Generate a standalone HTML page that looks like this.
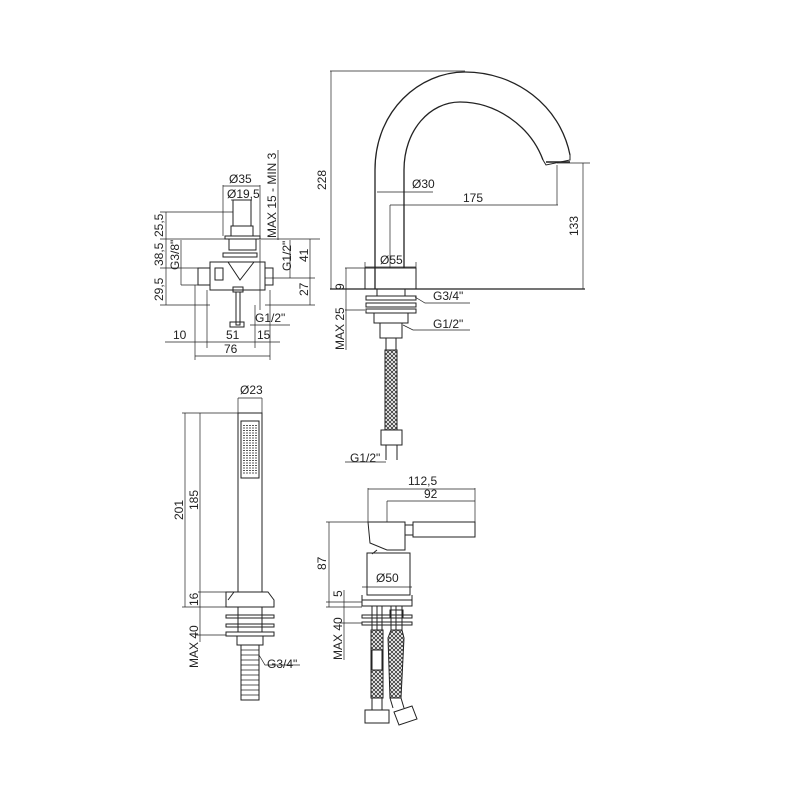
<!DOCTYPE html>
<html><head><style>html,body{margin:0;padding:0;background:#fff}svg{display:block}text{font-family:"Liberation Sans",sans-serif;font-size:12px;fill:#222;stroke:none}</style></head><body>
<svg width="800" height="800" viewBox="0 0 800 800" xmlns="http://www.w3.org/2000/svg" fill="none" stroke="#222" stroke-width="1">
<defs>
<pattern id="hx" width="4" height="4" patternUnits="userSpaceOnUse"><path d="M0,0 L4,4 M4,0 L0,4" stroke="#333" stroke-width="0.8"/></pattern>
</defs>
<!-- SPOUT -->
<path d="M375,289 V170 C375,110 420,72 465,72 C515,72 560,105 570,155" stroke-width="1.3"/>
<path d="M404,268 V170 C404,130 430,102 460,102 C495,102 530,125 543,160" stroke-width="1.3"/>
<path d="M543,160 L546,165 L570,160 L570,155" />
<path d="M546,162 h24" stroke-width="1.5"/>
<line x1="330" y1="71" x2="465" y2="71" stroke-width="0.7"/>
<line x1="331" y1="71" x2="331" y2="289" stroke-width="0.7"/>
<text x="326" y="190" transform="rotate(-90 326 190)">228</text>
<rect x="365" y="268" width="51" height="21"/>
<line x1="330" y1="289" x2="585" y2="289" stroke-width="1.2"/>
<line x1="377" y1="192" x2="403" y2="192" stroke-width="0.7"/>
<line x1="403" y1="192" x2="433" y2="192" stroke-width="0.7"/>
<text x="412" y="188">Ø30</text>
<line x1="390" y1="205" x2="558" y2="205" stroke-width="0.7"/>
<line x1="390" y1="205" x2="390" y2="268" stroke-width="0.7"/>
<line x1="557" y1="165" x2="557" y2="205" stroke-width="0.7"/>
<text x="463" y="202">175</text>
<line x1="557" y1="163" x2="590" y2="163" stroke-width="0.7"/>
<line x1="583" y1="163" x2="583" y2="289" stroke-width="0.7"/>
<text x="578" y="236" transform="rotate(-90 578 236)">133</text>
<line x1="365" y1="268" x2="365" y2="262" stroke-width="0.7"/>
<line x1="416" y1="268" x2="416" y2="262" stroke-width="0.7"/>
<line x1="365" y1="267" x2="416" y2="267" stroke-width="0.7"/>
<text x="380" y="264">Ø55</text>
<line x1="345" y1="268" x2="365" y2="268" stroke-width="0.7"/>
<line x1="346" y1="268" x2="346" y2="350" stroke-width="0.7"/>
<text x="344" y="290" transform="rotate(-90 344 290)">9</text>
<text x="344" y="350" transform="rotate(-90 344 350)">MAX 25</text>
<line x1="345" y1="310" x2="365" y2="310" stroke-width="0.7"/>
<rect x="366" y="296" width="50" height="4"/><rect x="366" y="303" width="50" height="4"/><rect x="366" y="309" width="50" height="4"/>
<rect x="377" y="289" width="28" height="7"/>
<rect x="374" y="313" width="34" height="10"/>
<rect x="380" y="323" width="22" height="15"/>
<path d="M386,338 V350 M396,338 V350"/>
<rect x="385" y="350" width="12" height="80" fill="url(#hx)"/>
<rect x="381" y="430" width="21" height="15"/>
<path d="M386,445 V460 M397,445 V460"/>
<path d="M415,297 L425,303 H470" stroke-width="0.7"/><text x="433" y="300">G3/4"</text>
<path d="M403,325 L413,330 H470" stroke-width="0.7"/><text x="433" y="328">G1/2"</text>
<path d="M345,462 H386" stroke-width="0.7"/><text x="350" y="462">G1/2"</text>
<!-- VALVE -->
<line x1="223" y1="185" x2="223" y2="236" stroke-width="0.7"/><line x1="260" y1="185" x2="260" y2="236" stroke-width="0.7"/>
<line x1="223" y1="186" x2="260" y2="186" stroke-width="0.7"/><text x="229" y="183">Ø35</text>
<line x1="231" y1="200" x2="252" y2="200" stroke-width="0.7"/><text x="227" y="198">Ø19,5</text>
<rect x="233" y="200" width="18" height="26"/><rect x="231" y="226" width="22" height="10"/>
<rect x="225" y="236" width="35" height="3"/><rect x="229" y="239" width="27" height="11"/>
<rect x="223" y="253" width="34" height="4"/>
<rect x="210" y="262" width="55" height="28"/>
<path d="M228,262 L240,280 L254,262"/>
<rect x="198" y="268" width="12" height="17"/><rect x="265" y="268" width="8" height="17"/>
<rect x="215" y="268" width="8" height="12"/>
<rect x="233" y="287" width="10" height="5"/>
<rect x="236" y="292" width="4" height="33"/><rect x="230" y="322" width="14" height="5"/>
<line x1="260" y1="240" x2="260" y2="310" stroke-width="0.7"/>
<line x1="160" y1="212" x2="233" y2="212" stroke-width="0.7"/>
<line x1="160" y1="239" x2="320" y2="239" stroke-width="0.7"/>
<line x1="160" y1="268" x2="198" y2="268" stroke-width="0.7"/>
<line x1="160" y1="305" x2="210" y2="305" stroke-width="0.7"/>
<line x1="166" y1="212" x2="166" y2="305" stroke-width="0.7"/>
<text x="163" y="237" transform="rotate(-90 163 237)">25,5</text>
<text x="163" y="266" transform="rotate(-90 163 266)">38,5</text>
<text x="163" y="301" transform="rotate(-90 163 301)">29,5</text>
<line x1="181" y1="240" x2="181" y2="285" stroke-width="0.7"/><line x1="181" y1="285" x2="198" y2="285" stroke-width="0.7"/>
<text x="179" y="270" transform="rotate(-90 179 270)">G3/8"</text>
<text x="276" y="238" transform="rotate(-90 276 238)">MAX 15 - MIN 3</text>
<line x1="278" y1="150" x2="278" y2="240" stroke-width="0.7"/>
<line x1="290" y1="240" x2="290" y2="278" stroke-width="0.7"/>
<text x="291" y="271" transform="rotate(-90 291 271)">G1/2"</text>
<line x1="310" y1="239" x2="310" y2="305" stroke-width="0.7"/>
<line x1="265" y1="278" x2="315" y2="278" stroke-width="0.7"/><line x1="265" y1="305" x2="315" y2="305" stroke-width="0.7"/>
<text x="308" y="262" transform="rotate(-90 308 262)">41</text>
<text x="308" y="296" transform="rotate(-90 308 296)">27</text>
<line x1="195" y1="285" x2="195" y2="360" stroke-width="0.7"/><line x1="207" y1="290" x2="207" y2="348" stroke-width="0.7"/>
<line x1="255" y1="305" x2="255" y2="348" stroke-width="0.7"/><line x1="270" y1="290" x2="270" y2="360" stroke-width="0.7"/>
<line x1="165" y1="342" x2="280" y2="342" stroke-width="0.7"/>
<text x="173" y="339">10</text><text x="226" y="339">51</text><text x="257" y="339">15</text>
<text x="255" y="322">G1/2"</text><line x1="250" y1="325" x2="290" y2="325" stroke-width="0.7"/>
<line x1="195" y1="356" x2="270" y2="356" stroke-width="0.7"/><text x="224" y="353">76</text>
<!-- HAND SHOWER -->
<rect x="238" y="413" width="24" height="179"/>
<rect x="241" y="421" width="18" height="57"/>
<path d="M244,425 V475 M247,425 V475 M250,425 V475 M253,425 V475 M256,425 V475" stroke-width="1.5" stroke-dasharray="1 1.5"/>
<line x1="238" y1="398" x2="262" y2="398" stroke-width="0.7"/><line x1="238" y1="398" x2="238" y2="413" stroke-width="0.7"/><line x1="262" y1="398" x2="262" y2="413" stroke-width="0.7"/>
<text x="240" y="394">Ø23</text>
<path d="M226,607 V592 H268 L274,600 V607 Z M234,592 L228,600"/>
<line x1="182" y1="413" x2="238" y2="413" stroke-width="0.7"/>
<line x1="182" y1="607" x2="230" y2="607" stroke-width="0.7"/>
<line x1="198" y1="592" x2="226" y2="592" stroke-width="0.7"/>
<line x1="185" y1="413" x2="185" y2="607" stroke-width="0.7"/>
<line x1="200" y1="413" x2="200" y2="642" stroke-width="0.7"/>
<text x="183" y="520" transform="rotate(-90 183 520)">201</text>
<text x="198" y="510" transform="rotate(-90 198 510)">185</text>
<text x="198" y="606" transform="rotate(-90 198 606)">16</text>
<text x="198" y="668" transform="rotate(-90 198 668)">MAX 40</text>
<line x1="195" y1="635" x2="226" y2="635" stroke-width="0.7"/>
<rect x="226" y="615" width="48" height="3"/><rect x="226" y="624" width="48" height="3"/><rect x="226" y="632" width="48" height="4"/>
<rect x="238" y="607" width="24" height="25"/>
<rect x="237" y="636" width="26" height="9"/>
<rect x="241" y="645" width="18" height="55"/>
<path d="M241,650 h18 M241,655 h18 M241,660 h18 M241,665 h18 M241,670 h18 M241,675 h18 M241,680 h18 M241,685 h18 M241,690 h18 M241,695 h18" stroke-width="0.8"/>
<path d="M259,655 L265,665 H300" stroke-width="0.7"/><text x="267" y="668">G3/4"</text>
<!-- MIXER -->
<path d="M368,522 H405 V550 H387 L370,543 Z"/>
<rect x="405" y="525" width="8" height="10"/><rect x="413" y="522" width="62" height="15"/>
<rect x="367" y="553" width="43" height="42"/>
<path d="M377,550 L372,554"/>
<rect x="362" y="600" width="50" height="6"/><line x1="362" y1="595" x2="362" y2="600"/><line x1="412" y1="595" x2="412" y2="600"/>
<line x1="362" y1="587" x2="412" y2="587" stroke-width="0.7"/><text x="376" y="582">Ø50</text>
<line x1="368" y1="488" x2="368" y2="522" stroke-width="0.7"/><line x1="475" y1="488" x2="475" y2="522" stroke-width="0.7"/>
<line x1="368" y1="489" x2="475" y2="489" stroke-width="0.7"/><text x="408" y="485">112,5</text>
<line x1="387" y1="501" x2="387" y2="522" stroke-width="0.7"/>
<line x1="387" y1="501" x2="475" y2="501" stroke-width="0.7"/><text x="424" y="498">92</text>
<line x1="326" y1="522" x2="368" y2="522" stroke-width="0.7"/>
<line x1="329" y1="522" x2="329" y2="607" stroke-width="0.7"/>
<text x="326" y="570" transform="rotate(-90 326 570)">87</text>
<line x1="326" y1="602" x2="362" y2="602" stroke-width="0.7"/><line x1="326" y1="607" x2="362" y2="607" stroke-width="0.7"/>
<line x1="344" y1="590" x2="344" y2="660" stroke-width="0.7"/>
<text x="342" y="597" transform="rotate(-90 342 597)">5</text>
<text x="342" y="660" transform="rotate(-90 342 660)">MAX 40</text>
<line x1="340" y1="623" x2="362" y2="623" stroke-width="0.7"/>
<rect x="362" y="615" width="50" height="3"/><rect x="362" y="622" width="50" height="3"/>
<path d="M372,606 V630 M377,606 V630 M382,606 V630 M391,606 V630 M396,606 V630 M402,606 V630"/>
<rect x="390" y="610" width="13" height="8"/>
<path d="M371,630 h12 v68 h-12z M391,630 h11 l2,8 l-3,60 h-11 l-2,-60z" fill="url(#hx)"/>
<rect x="372" y="650" width="10" height="20" fill="#fff"/>
<path d="M372,698 V710 M382,698 V710 M390,698 L393,708 M401,698 L404,708"/>
<rect x="365" y="710" width="24" height="13"/>
<path d="M394,712 L412,706 L417,719 L399,725 Z"/>
</svg>
</body></html>
